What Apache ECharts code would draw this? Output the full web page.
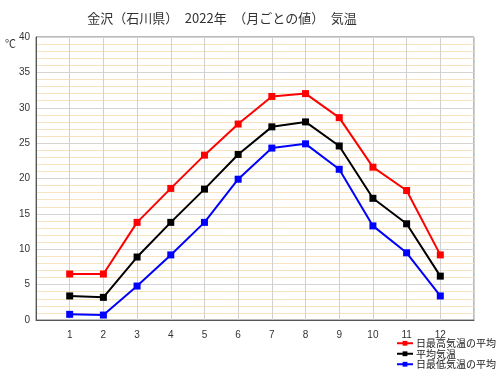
<!DOCTYPE html>
<html>
<head>
<meta charset="utf-8">
<script src="https://cdn.jsdelivr.net/npm/echarts@6/dist/echarts.min.js"></script>
<style>
  html, body { margin: 0; padding: 0; background: #fff; }
  #chart { width: 500px; height: 377px; }
</style>
</head>
<body>
<div id="chart"></div>
<script>
var months = [1, 2, 3, 4, 5, 6, 7, 8, 9, 10, 11, 12];
var maxTemp = [6.5, 6.5, 13.8, 18.6, 23.3, 27.7, 31.6, 32.0, 28.6, 21.6, 18.3, 9.2];
var meanTemp = [3.4, 3.2, 8.9, 13.8, 18.5, 23.4, 27.3, 28.0, 24.6, 17.2, 13.6, 6.2];
var minTemp = [0.8, 0.7, 4.8, 9.2, 13.8, 19.9, 24.3, 24.9, 21.3, 13.3, 9.5, 3.4];
var seriesNames = ["日最高気温の平均", "平均気温", "日最低気温の平均"];
var seriesColors = ["#ff0000", "#000000", "#0000ff"];

function pairs(vals) {
    return months.map(function (m, i) { return [m, vals[i]]; });
}

var dom = document.getElementById("chart");
var myChart = echarts.init(dom);

var allData = [maxTemp, meanTemp, minTemp];
var series = allData.map(function (vals, i) {
    return {
        name: seriesNames[i],
        type: 'line',
        data: pairs(vals),
        symbol: 'rect',
        symbolSize: 7,
        color: seriesColors[i],
        lineStyle: { width: 2, color: seriesColors[i] },
        itemStyle: { color: seriesColors[i] }
    };
});

var option = {
    animation: false,
    title: {
        text: "金沢（石川県）　2022年　（月ごとの値）　気温",
        left: 217,
        textAlign: 'center',
        top: 7,
        textStyle: {
            color: '#333',
            fontSize: 13,
            fontWeight: 'normal',
            fontFamily: 'Noto Sans CJK JP'
        }
    },
    graphic: [{
        type: 'text',
        left: 5,
        top: 38,
        style: { text: '℃', fill: '#333', fontSize: 11, fontFamily: 'Noto Sans CJK JP' }
    }],
    grid: {
        left: 36,
        right: 26,
        top: 37,
        bottom: 57,
        show: true,
        borderColor: '#777',
        borderWidth: 1,
        containLabel: false
    },
    legend: {
        orient: 'vertical',
        left: 396,
        top: 338,
        padding: 0,
        itemGap: 0,
        itemWidth: 16,
        itemHeight: 6,
        textStyle: {
            color: '#222',
            fontSize: 10,
            lineHeight: 10.5,
            fontFamily: 'Noto Sans CJK JP',
            padding: [0, 0, 0, -2]
        },
        data: seriesNames
    },
    xAxis: {
        type: 'value',
        min: 0,
        max: 13,
        interval: 1,
        axisLine: { show: true, lineStyle: { color: '#555' } },
        axisTick: { show: false },
        axisLabel: {
            color: '#333',
            fontSize: 10,
            margin: 10,
            fontFamily: 'Liberation Sans',
            formatter: function (v) {
                return (v >= 1 && v <= 12) ? String(v) : '';
            }
        },
        splitLine: { show: true, lineStyle: { color: '#d0d0d0', width: 1 } }
    },
    yAxis: {
        type: 'value',
        min: 0,
        max: 40,
        interval: 5,
        axisLine: { show: true, lineStyle: { color: '#555' } },
        axisTick: { show: false },
        axisLabel: {
            color: '#333',
            fontSize: 10,
            margin: 6,
            fontFamily: 'Liberation Sans'
        },
        minorTick: { show: false, splitNumber: 5 },
        minorSplitLine: { show: true, lineStyle: { color: '#f7e3c0', width: 1 } },
        splitLine: { show: true, lineStyle: { color: '#d4d4d4', width: 1 } }
    },
    series: series
};

if (option && typeof option === "object") {
    myChart.setOption(option, true);
}
</script>
</body>
</html>
